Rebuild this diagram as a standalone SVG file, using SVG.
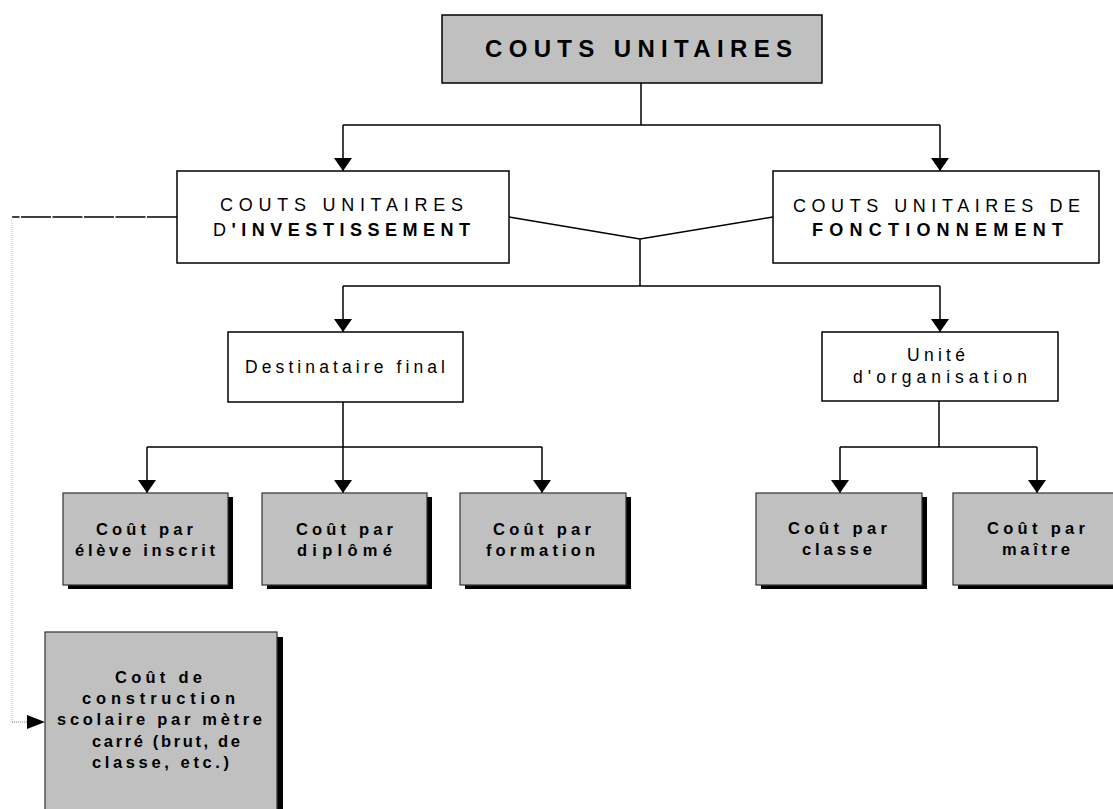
<svg xmlns="http://www.w3.org/2000/svg" width="1113" height="809" viewBox="0 0 1113 809">
<style>
.ln{fill:none;stroke:#000;stroke-width:1.5}
.arr{fill:none;stroke:#000;stroke-width:1.5;marker-end:url(#ah)}
.wbox{fill:#fff;stroke:#000;stroke-width:1.5}
.gbox{fill:#c0c0c0;stroke:#333;stroke-width:1.2}
.shadow{fill:#000}
.t{font-family:"Liberation Sans",Arial,sans-serif;fill:#000}
.b{font-weight:bold}
.big{font-size:24px;font-weight:bold}
.mid{font-size:18px}
.sm{font-size:17.5px}
.g{font-size:16.5px;font-weight:bold}
</style>
<defs>
<marker id="ah" viewBox="0 0 13 18" refX="13" refY="9" markerWidth="13" markerHeight="18" markerUnits="userSpaceOnUse" orient="auto">
<path d="M0,0 L13,9 L0,18 z" fill="#000"/>
</marker>
</defs>
<rect width="1113" height="809" fill="#fff"/>

<g id="connectors">
<path class="ln" d="M641,83 V125 M343,125 H940"/>
<path class="arr" d="M343,125 V171"/>
<path class="arr" d="M940,125 V171"/>
<path class="ln" d="M509,217 L640,239 L773,217 M640,239 V286 M343,286 H940"/>
<path class="arr" d="M343,286 V332"/>
<path class="arr" d="M940,286 V332"/>
<path class="ln" d="M343,402 V447 M147,447 H542"/>
<path class="arr" d="M147,447 V493"/>
<path class="arr" d="M343,447 V493"/>
<path class="arr" d="M542,447 V493"/>
<path class="ln" d="M939,401 V447 M840,447 H1037"/>
<path class="arr" d="M840,447 V493"/>
<path class="arr" d="M1037,447 V493"/>
<path d="M177,217 H12" fill="none" stroke="#000" stroke-width="1.3" stroke-dasharray="30 1.5"/>
<path d="M12,217 V722" fill="none" stroke="#c8c8c8" stroke-width="1.2" stroke-dasharray="1 1"/>
<path d="M12,722 H28" fill="none" stroke="#777" stroke-width="1" stroke-dasharray="1 1"/>
<path d="M27,715 L45,722 L27,729 z" fill="#000"/>
</g>

<g id="n-top">
<rect class="gbox" x="442" y="15" width="380" height="68" style="stroke:#000;stroke-width:1.5"/>
<text class="t big" x="485" y="57" textLength="307" lengthAdjust="spacing">COUTS UNITAIRES</text>
</g>

<g id="n-invest">
<rect class="wbox" x="177" y="171" width="332" height="92"/>
<text class="t mid" x="220" y="211" textLength="243" lengthAdjust="spacing">COUTS UNITAIRES</text>
<text class="t mid" x="213" y="236" textLength="257" lengthAdjust="spacing">D<tspan class="b">'INVESTISSEMENT</tspan></text>
</g>

<g id="n-fonct">
<rect class="wbox" x="773" y="171" width="326" height="92"/>
<text class="t mid" x="793" y="212" textLength="287" lengthAdjust="spacing">COUTS UNITAIRES DE</text>
<text class="t mid b" x="812" y="236" textLength="251" lengthAdjust="spacing">FONCTIONNEMENT</text>
</g>

<g id="n-dest">
<rect class="wbox" x="228" y="332" width="235" height="70"/>
<text class="t sm" x="245" y="373" textLength="200" lengthAdjust="spacing">Destinataire final</text>
</g>

<g id="n-unite">
<rect class="wbox" x="822" y="332" width="236" height="69"/>
<text class="t sm" x="907" y="361" textLength="58" lengthAdjust="spacing">Unité</text>
<text class="t sm" x="853" y="383" textLength="174" lengthAdjust="spacing">d'organisation</text>
</g>

<g id="n-eleve">
<rect class="shadow" x="68" y="497" width="165" height="92"/>
<rect class="gbox" x="63" y="493" width="165" height="92"/>
<text class="t g" x="96" y="535" textLength="97" lengthAdjust="spacing">Coût par</text>
<text class="t g" x="75" y="556" textLength="140" lengthAdjust="spacing">élève inscrit</text>
</g>

<g id="n-diplome">
<rect class="shadow" x="267" y="497" width="165" height="92"/>
<rect class="gbox" x="262" y="493" width="165" height="92"/>
<text class="t g" x="296" y="535" textLength="97" lengthAdjust="spacing">Coût par</text>
<text class="t g" x="297" y="556" textLength="95" lengthAdjust="spacing">diplômé</text>
</g>

<g id="n-formation">
<rect class="shadow" x="465" y="497" width="166" height="92"/>
<rect class="gbox" x="460" y="493" width="166" height="92"/>
<text class="t g" x="493" y="535" textLength="98" lengthAdjust="spacing">Coût par</text>
<text class="t g" x="486" y="556" textLength="109" lengthAdjust="spacing">formation</text>
</g>

<g id="n-classe">
<rect class="shadow" x="761" y="497" width="166" height="92"/>
<rect class="gbox" x="756" y="493" width="166" height="92"/>
<text class="t g" x="788" y="534" textLength="99" lengthAdjust="spacing">Coût par</text>
<text class="t g" x="802" y="555" textLength="70" lengthAdjust="spacing">classe</text>
</g>

<g id="n-maitre">
<rect class="shadow" x="958" y="497" width="166" height="92"/>
<rect class="gbox" x="953" y="493" width="166" height="92"/>
<text class="t g" x="987" y="534" textLength="98" lengthAdjust="spacing">Coût par</text>
<text class="t g" x="1002" y="555" textLength="68" lengthAdjust="spacing">maître</text>
</g>

<g id="n-construction">
<rect class="shadow" x="51" y="637" width="232" height="200"/>
<rect class="gbox" x="45" y="632" width="232" height="200"/>
<text class="t g" x="115" y="683" textLength="87" lengthAdjust="spacing">Coût de</text>
<text class="t g" x="82" y="704" textLength="153" lengthAdjust="spacing">construction</text>
<text class="t g" x="57" y="725" textLength="205" lengthAdjust="spacing">scolaire par mètre</text>
<text class="t g" x="92" y="747" textLength="148" lengthAdjust="spacing">carré (brut, de</text>
<text class="t g" x="92" y="768" textLength="137" lengthAdjust="spacing">classe, etc.)</text>
</g>
</svg>
